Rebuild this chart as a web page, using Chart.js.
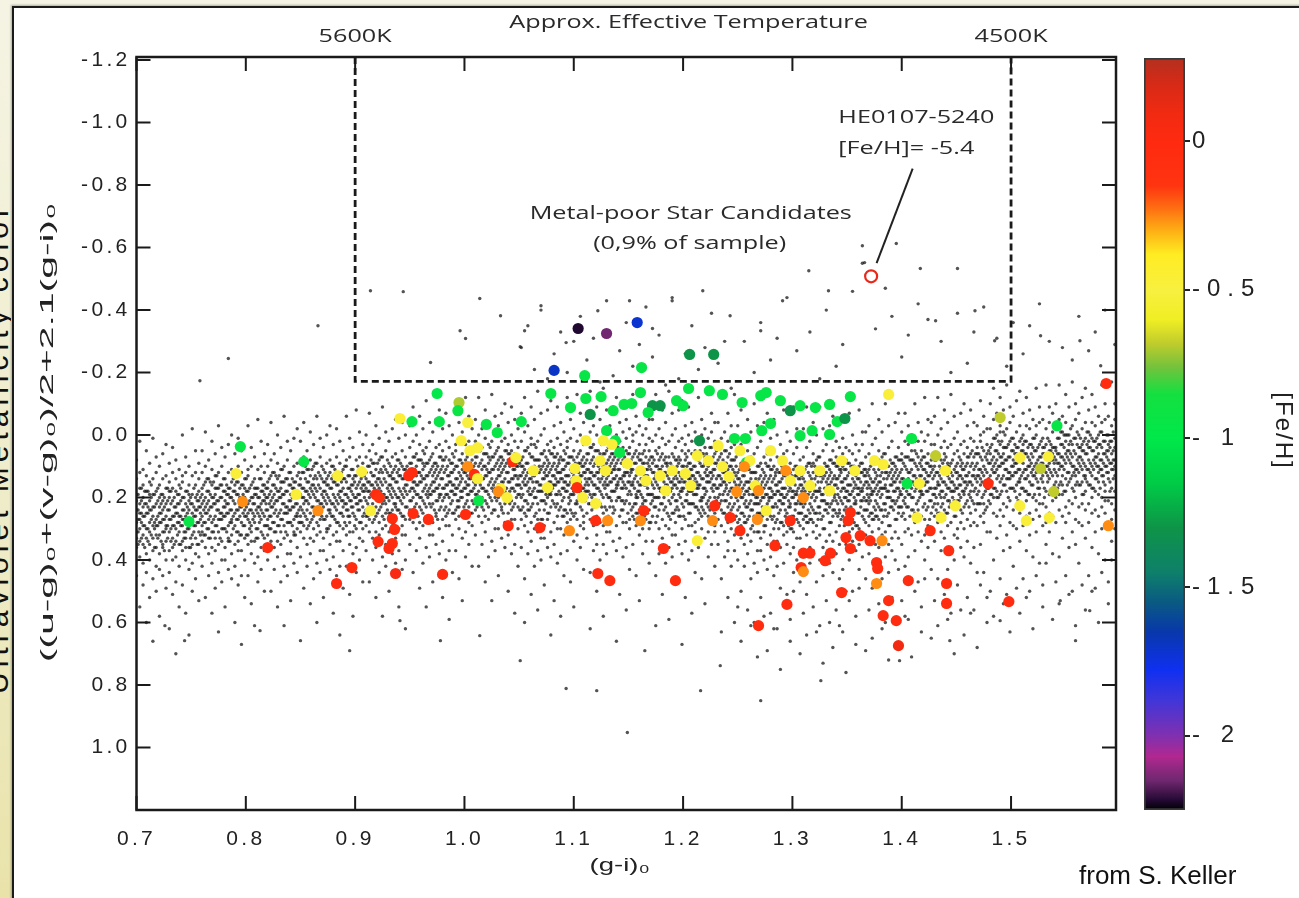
<!DOCTYPE html>
<html><head><meta charset="utf-8">
<script src="https://cdn.jsdelivr.net/npm/chart.js@4.4.0/dist/chart.umd.min.js"></script>
<style>
html,body{margin:0;padding:0;}
body{width:1299px;height:898px;overflow:hidden;position:relative;background:linear-gradient(180deg,#f5f4e4 0%,#efecca 55%,#e9e3aa 100%);font-family:'Liberation Sans',Arial,sans-serif;}
#panel{position:absolute;left:12px;top:6px;width:1300px;height:900px;background:#fff;border:2px solid #1a1a1a;box-shadow:-1px -1px 2px rgba(0,0,0,.3);}
#main{position:absolute;left:14px;top:8px;}
#cb{position:absolute;left:1130px;top:40px;}
#credit{position:absolute;left:1079px;top:860px;font-size:26px;color:#111;white-space:nowrap;}
#sidewrap{position:absolute;left:0;top:0;width:11px;height:898px;overflow:hidden;}
#side{position:absolute;left:-2px;top:448px;transform:translate(-50%,-50%) rotate(-90deg);font-size:30px;line-height:30px;color:#111;white-space:nowrap;letter-spacing:5px;}
</style></head>
<body>
<div id="sidewrap"><div id="side">Ultraviolet Metallicity color</div></div>
<div id="panel"></div>
<canvas id="main" width="1285" height="890"></canvas>
<canvas id="cb" width="169" height="800"></canvas>
<div id="credit">from S. Keller</div>
<script>
// ---------------- data ----------------
const xTicks = [0.7,0.8,0.9,1.0,1.1,1.2,1.3,1.4,1.5];
const yTicks = [-1.2,-1.0,-0.8,-0.6,-0.4,-0.2,0,0.2,0.4,0.6,0.8,1.0];
const tempTickVals = [0.9,1.5];
const tempTickLabels = ['5600K','4500K'];
const cbTicks = [0,-0.5,-1,-1.5,-2];
const cbLabels = ['0','-0.5','- 1','-1.5','- 2'];
const cbRange = [-2.25,0.28];
const boxX = [0.9,0.9,1.5,1.5];
const boxY = [-1.21,-0.172,-0.172,-1.21];
const heStar = [1.372,-0.508];
const leaderX = [1.41,1.377];
const leaderY = [-0.853,-0.55];

// photometric sample: each row = [x, y1, y2, ...] (stars sharing one (g-i) column)
const sampleCols = [
[.700,.19,.31,.24,.36,.14,.28,.21,.45,.08,.33],[.703,.27,.17,.39,.22,.30,.12,.34,.25,.55,.02],[.706,.23,.35,.16,.29,.41,.20,.26,.48,.11,.32],[.709,.30,.18,.25,.38,.13,.33,.22,.05,.44,.60],[.712,.21,.28,.35,.15,.40,.24,.31,.52,.09,.19],[.715,.26,.33,.19,.23,.37,.14,.29,.46,.01,.66],[.718,.18,.29,.36,.22,.27,.12,.42,.32,.07,.50],[.721,.32,.20,.25,.16,.38,.28,.23,.58,.10,.43],[.724,.24,.14,.31,.35,.19,.27,.45,.06,.21,.36],[.727,.29,.22,.17,.34,.26,.40,.13,.49,.03,.30],
[.730,.20,.27,.37,.15,.31,.24,.44,.09,.62,.18],[.733,.33,.21,.26,.12,.36,.29,.17,.51,.04,.40],[.736,.25,.30,.18,.39,.23,.14,.34,.47,.08,.70],[.739,.16,.28,.35,.22,.31,.19,.42,.11,.26,.55],[.742,.27,.34,.20,.15,.29,.37,.24,.00,.48,.13],[.745,.22,.18,.31,.26,.40,.12,.33,.57,.07,.36],[.748,.30,.24,.16,.36,.21,.28,.43,.10,.19,.64],[.751,.19,.32,.25,.13,.35,.27,.22,.50,-.02,.41],[.754,.26,.20,.29,.38,.16,.33,.12,.46,.05,.24],[.757,.23,.35,.18,.28,.31,.14,.39,.09,.53,.21],
[.760,.17,.29,.22,.34,.12,.26,.19,.42,.05,.31],[.763,.25,.15,.36,.20,.28,.10,.32,.23,.52,-.01],[.766,.21,.33,.14,.27,.38,.18,.24,.45,.08,.30],[.769,.28,.16,.23,.36,.11,.31,.20,.02,.41,.57],[.772,.19,.26,.33,.13,.37,.22,.29,.49,.06,.17],[.775,.24,.31,.17,.21,.35,.12,.27,.44,-.03,.63],[.778,.16,.27,.34,.20,.25,.10,.40,.30,.04,.47],[.781,.30,.18,.23,.14,.36,.26,.21,.55,.07,.40],[.784,.22,.12,.29,.33,.17,.25,.43,.03,.19,.34],[.787,.27,.20,.15,.32,.24,.38,.11,.46,.00,.28],
[.790,.18,.25,.35,.13,.29,.22,.42,.06,.60,.16],[.793,.31,.19,.24,.10,.34,.27,.15,.48,.01,.37],[.796,.23,.28,.16,.37,.21,.12,.32,.45,.05,.67],[.799,.14,.26,.33,.20,.29,.17,.40,.08,.24,.52],[.802,.25,.32,.18,.13,.27,.35,.22,-.03,.45,.11],[.805,.20,.16,.29,.24,.38,.10,.31,.54,.04,.34],[.808,.28,.22,.14,.34,.19,.26,.41,.07,.17,.61],[.811,.17,.30,.23,.11,.33,.25,.20,.47,-.05,.39],[.814,.24,.18,.27,.36,.14,.31,.10,.43,.02,.22],[.817,.21,.33,.16,.26,.29,.12,.37,.06,.50,.19],
[.820,.15,.27,.20,.32,.10,.24,.17,.40,.03,.29],[.823,.23,.13,.34,.18,.26,.08,.30,.21,.50,-.04],[.826,.19,.31,.12,.25,.36,.16,.22,.43,.06,.28],[.829,.26,.14,.21,.34,.09,.29,.18,.00,.39,.55],[.832,.17,.24,.31,.11,.35,.20,.27,.47,.04,.15],[.835,.22,.29,.15,.19,.33,.10,.25,.42,-.06,.61],[.838,.14,.25,.32,.18,.23,.08,.38,.28,.02,.45],[.841,.28,.16,.21,.12,.34,.24,.19,.53,.05,.38],[.844,.20,.10,.27,.31,.15,.23,.41,.01,.17,.32],[.847,.25,.18,.13,.30,.22,.36,.09,.44,-.02,.26],
[.850,.14,.26,.19,.31,.09,.23,.16,.39,.02,.28],[.853,.22,.12,.33,.17,.25,.07,.29,.20,.49,-.04],[.856,.18,.30,.11,.24,.35,.15,.21,.42,.05,.27],[.859,.25,.13,.20,.33,.08,.28,.17,-.01,.38,.54],[.862,.16,.23,.30,.10,.34,.19,.26,.46,.03,.14],[.865,.21,.28,.14,.18,.32,.09,.24,.41,-.06,.60],[.868,.13,.24,.31,.17,.22,.07,.37,.27,.01,.44],[.871,.27,.15,.20,.11,.33,.23,.18,.52,.04,.37],[.874,.19,.09,.26,.30,.14,.22,.40,.00,.16,.31],[.877,.24,.17,.12,.29,.21,.35,.08,.43,-.03,.25],
[.880,.15,.22,.32,.10,.26,.19,.39,.03,.57,.13],[.883,.28,.16,.21,.07,.31,.24,.12,.45,-.02,.34],[.886,.20,.25,.13,.34,.18,.09,.29,.42,.02,.64],[.889,.11,.23,.30,.17,.26,.14,.37,.05,.21,.49],[.892,.22,.29,.15,.10,.24,.32,.19,-.06,.42,.08],[.895,.17,.13,.26,.21,.35,.07,.28,.51,.01,.31],[.898,.25,.19,.11,.31,.16,.23,.38,.04,.14,.58],[.901,.13,.27,.20,.08,.30,.22,.17,.44,-.08,.36],[.904,.21,.15,.24,.33,.11,.28,.07,.40,-.01,.19],[.907,.18,.30,.13,.23,.26,.09,.34,.03,.47,.16],
[.910,.12,.24,.17,.29,.07,.21,.14,.37,.00,.26],[.913,.20,.10,.31,.15,.23,.05,.27,.18,.47,-.07],[.916,.16,.28,.09,.22,.33,.13,.19,.40,.03,.25],[.919,.23,.11,.18,.31,.06,.26,.15,-.03,.36,.52],[.922,.14,.21,.28,.08,.32,.17,.24,.44,.01,.12],[.925,.19,.26,.12,.16,.30,.07,.22,.39,-.09,.58],[.928,.11,.22,.29,.15,.20,.05,.35,.25,-.01,.42],[.931,.25,.13,.18,.09,.31,.21,.16,.50,.02,.35],[.934,.17,.07,.24,.28,.12,.20,.38,-.02,.14,.29],[.937,.22,.15,.10,.27,.19,.33,.06,.41,-.05,.23],
[.940,.13,.20,.30,.08,.24,.17,.37,.01,.55,.11],[.943,.26,.14,.19,.05,.29,.22,.10,.43,-.04,.32],[.946,.18,.23,.11,.32,.16,.07,.27,.40,.00,.62],
[.950,.09,.21,.14,.27,.04,.18,.11,.35,-.03,.24],[.953,.17,.07,.28,.12,.20,.02,.24,.15,.44,-.09],[.956,.13,.25,.06,.19,.30,.10,.16,.37,.00,.22],[.959,.20,.08,.15,.28,.03,.23,.12,-.06,.33,.49],[.962,.11,.18,.25,.05,.29,.14,.21,.41,-.02,.09],[.965,.16,.23,.09,.13,.27,.04,.19,.36,-.11,.55],[.968,.08,.19,.26,.12,.17,.02,.32,.22,-.04,.39],[.971,.22,.10,.15,.06,.28,.18,.13,.47,-.01,.32],[.974,.14,.04,.21,.25,.09,.17,.35,-.05,.11,.26],[.977,.19,.12,.07,.24,.16,.30,.03,.38,-.08,.20],
[.980,.10,.17,.27,.05,.21,.14,.34,-.02,.52,.08],[.983,.23,.11,.16,.02,.26,.19,.07,.40,-.07,.29],[.986,.15,.20,.08,.29,.13,.04,.24,.37,-.03,.59],[.989,.06,.18,.25,.12,.21,.09,.32,.00,.16,.44],[.992,.17,.24,.10,.05,.19,.27,.14,-.10,.37,.03],[.995,.12,.08,.21,.16,.30,.02,.23,.46,-.04,.26],[.998,.20,.14,.06,.26,.11,.18,.33,-.01,.09,.53],[1.001,.08,.22,.15,.03,.25,.17,.12,.39,-.12,.31],[1.004,.16,.10,.19,.28,.06,.23,.02,.35,-.06,.14],[1.007,.13,.25,.08,.18,.21,.04,.29,-.02,.42,.11],
[1.010,.07,.19,.12,.24,.02,.16,.09,.32,-.05,.21],[1.013,.15,.05,.26,.10,.18,.00,.22,.13,.42,-.12],[1.016,.11,.23,.04,.17,.28,.08,.14,.35,-.02,.20],[1.019,.18,.06,.13,.26,.01,.21,.10,-.08,.31,.47],[1.022,.09,.16,.23,.03,.27,.12,.19,.39,-.04,.07],[1.025,.14,.21,.07,.11,.25,.02,.17,.34,-.13,.53],[1.028,.06,.17,.24,.10,.15,.00,.30,.20,-.06,.37],[1.031,.20,.08,.13,.04,.26,.16,.11,.45,-.03,.30],[1.034,.12,.02,.19,.23,.07,.15,.33,-.07,.09,.24],[1.037,.17,.10,.05,.22,.14,.28,.01,.36,-.10,.18],
[1.040,.08,.15,.25,.03,.19,.12,.32,-.04,.50,.06],[1.043,.21,.09,.14,.00,.24,.17,.05,.38,-.09,.27],[1.046,.13,.18,.06,.27,.11,.02,.22,.35,-.05,.57],[1.049,.04,.16,.23,.10,.19,.07,.30,-.02,.14,.42],
[1.052,.08,.20,.13,.27,.02,.17,.10,.36,-.07,.24,-.28],[1.055,.16,.05,.29,.11,.21,-.01,.25,.14,.46,-.12,.60],[1.058,.12,.24,.04,.18,.31,.09,.15,.38,-.03,.22,-.35],[1.061,.19,.07,.14,.28,.01,.23,.11,-.09,.34,.51,.03],[1.064,.10,.17,.26,.03,.30,.13,.20,.42,-.05,.08,-.21],[1.067,.15,.22,.08,.12,.27,.02,.18,.37,-.14,.56,.31],[1.070,.06,.18,.27,.11,.16,.00,.33,.21,-.07,.40,-.40],[1.073,.21,.09,.14,.05,.29,.17,.12,.48,-.02,.33,.24],[1.076,.13,.03,.20,.25,.08,.16,.36,-.08,.10,.27,-.18],[1.079,.18,.11,.06,.23,.15,.31,.02,.39,-.11,.19,.64],
[1.082,.09,.16,.28,.04,.22,.13,.35,-.03,.53,.07,-.26],[1.085,.22,.10,.15,.01,.26,.19,.06,.41,-.09,.30,.12],[1.088,.14,.19,.07,.30,.12,.03,.23,.38,-.04,.58,-.33],[1.091,.05,.17,.24,.11,.20,.08,.32,-.01,.15,.45,.26],[1.094,.16,.25,.09,.04,.18,.28,.13,-.12,.37,.02,-.20],[1.097,.11,.07,.21,.15,.31,.01,.24,.47,-.05,.27,.19],[1.100,.19,.13,.05,.26,.10,.18,.34,-.02,.08,.55,-.30],[1.103,.07,.22,.14,.02,.27,.16,.11,.40,-.13,.32,.21],[1.106,.15,.09,.18,.29,.05,.23,.00,.36,-.07,.13,-.38],[1.109,.12,.26,.07,.17,.21,.03,.30,-.04,.43,.10,.28],
[1.112,.06,.18,.11,.25,.01,.15,.08,.33,-.06,.20,-.24],[1.115,.14,.04,.27,.09,.19,-.01,.22,.12,.44,-.14,.62],[1.118,.10,.23,.03,.16,.29,.07,.13,.37,-.03,.19,-.31],[1.121,.17,.05,.12,.26,.00,.21,.09,-.09,.32,.50,.35],[1.124,.08,.15,.22,.02,.28,.11,.18,.40,-.05,.06,-.17],[1.127,.13,.20,.06,.10,.25,.01,.16,.35,-.15,.58,.29],[1.130,.05,.16,.24,.09,.14,-.01,.31,.19,-.08,.38,-.43],[1.133,.20,.07,.12,.03,.27,.15,.10,.46,-.03,.31,.23],[1.136,.11,.01,.18,.23,.06,.14,.34,-.09,.08,.25,-.19],[1.139,.16,.09,.04,.21,.13,.29,.00,.37,-.12,.17,.66],
[1.142,.07,.14,.26,.02,.20,.11,.33,-.04,.51,.05,-.27],[1.145,.21,.08,.13,-.01,.24,.17,.04,.39,-.10,.28,.15],[1.148,.12,.17,.05,.28,.10,.01,.21,.36,-.05,.56,-.36],[1.151,.04,.15,.22,.09,.18,.06,.30,-.02,.13,.43,.27],[1.154,.15,.23,.07,.02,.16,.26,.11,-.13,.35,.00,-.22],[1.157,.09,.05,.19,.13,.29,-.01,.22,.45,-.06,.25,.20],[1.160,.18,.11,.03,.24,.08,.16,.32,-.03,.06,.53,-.29],[1.163,.06,.20,.12,.00,.25,.14,.09,.38,-.14,.30,.22],[1.166,.13,.07,.16,.27,.03,.21,-.02,.34,-.08,.11,-.41],[1.169,.10,.24,.05,.15,.19,.01,.28,-.05,.41,.08,.30],
[1.172,.07,.19,.12,.26,.02,.16,.09,.34,-.05,.21,-.25],[1.175,.15,.05,.28,.10,.20,.00,.23,.13,.45,-.13,.61],[1.178,.11,.24,.04,.17,.30,.08,.14,.38,-.02,.20,-.32],[1.181,.18,.06,.13,.27,.01,.22,.10,-.08,.33,.51,.36],[1.184,.09,.16,.23,.03,.29,.12,.19,.41,-.04,.07,-.16],[1.187,.14,.21,.07,.11,.26,.02,.17,.36,-.14,.59,.30],[1.190,.06,.17,.25,.10,.15,.00,.32,.20,-.07,.39,-.44],[1.193,.21,.08,.13,.04,.28,.16,.11,.47,-.02,.32,.24],[1.196,.12,.02,.19,.24,.07,.15,.35,-.08,.09,.26,-.18],[1.199,.17,.10,.05,.22,.14,.30,.01,.38,-.11,.18,.67],
[1.202,.08,.15,.27,.03,.21,.12,.34,-.03,.52,.06,-.26],[1.205,.22,.09,.14,.00,.25,.18,.05,.40,-.09,.29,.16],[1.208,.13,.18,.06,.29,.11,.02,.22,.37,-.04,.57,-.35],[1.211,.05,.16,.23,.10,.19,.07,.31,-.01,.14,.44,.28],[1.214,.16,.24,.08,.03,.17,.27,.12,-.12,.36,.01,-.21],[1.217,.10,.06,.20,.14,.30,.00,.23,.46,-.05,.26,.21],[1.220,.19,.12,.04,.25,.09,.17,.33,-.02,.07,.54,-.28],[1.223,.07,.21,.13,.01,.26,.15,.10,.39,-.13,.31,.23],[1.226,.14,.08,.17,.28,.04,.22,-.01,.35,-.07,.12,-.39],[1.229,.11,.25,.06,.16,.20,.02,.29,-.04,.42,.09,.31],
[1.232,.08,.20,.13,.27,.03,.17,.10,.35,-.04,.22,-.23],[1.235,.16,.06,.29,.11,.21,.01,.24,.14,.46,-.12,.63],[1.238,.12,.25,.05,.18,.31,.09,.15,.39,-.01,.21,-.30],[1.241,.19,.07,.14,.28,.02,.23,.11,-.07,.34,.52,.37],[1.244,.10,.17,.24,.04,.30,.13,.20,.42,-.03,.08,-.15],[1.247,.15,.22,.08,.12,.27,.03,.18,.37,-.13,.60,.32],
[1.250,.12,.24,.17,.31,.06,.21,.14,.40,-.03,.28,.55],[1.253,.20,.09,.33,.15,.25,.03,.29,.18,.50,-.08,.66],[1.256,.16,.28,.08,.22,.35,.13,.19,.42,.01,.26,-.30],[1.259,.23,.11,.18,.32,.05,.27,.15,-.05,.38,.56,.08],[1.262,.14,.21,.30,.07,.34,.17,.24,.46,-.01,.12,.61],[1.265,.19,.26,.12,.16,.31,.06,.22,.41,-.10,.60,-.20],[1.268,.10,.22,.31,.15,.20,.04,.37,.25,-.03,.44,.71],[1.271,.25,.13,.18,.09,.33,.21,.16,.52,.02,.37,-.36],[1.274,.17,.07,.24,.29,.12,.20,.40,-.04,.14,.31,.58],[1.277,.22,.15,.10,.27,.19,.35,.06,.43,-.07,.23,.69],
[1.280,.13,.20,.32,.08,.26,.17,.39,.01,.57,.11,-.24],[1.283,.26,.14,.19,.05,.30,.23,.10,.45,-.05,.34,.62],[1.286,.18,.23,.11,.34,.16,.07,.27,.42,.00,.62,-.31],[1.289,.09,.21,.28,.15,.24,.12,.36,.03,.19,.49,.75],[1.292,.20,.29,.13,.08,.22,.32,.17,-.08,.41,.06,.54],[1.295,.15,.11,.25,.19,.35,.05,.28,.51,-.01,.31,-.44],[1.298,.23,.17,.09,.30,.14,.22,.38,.02,.12,.59,.66],[1.301,.11,.26,.18,.06,.31,.20,.15,.44,-.09,.36,.50],[1.304,.19,.13,.22,.33,.10,.27,.04,.40,-.02,.18,-.27],[1.307,.16,.29,.12,.22,.25,.08,.33,.00,.47,.14,.70],
[1.310,.12,.23,.17,.30,.07,.21,.14,.39,-.02,.27,.57],[1.313,.20,.10,.32,.16,.26,.04,.28,.19,.51,-.09,.64],[1.316,.15,.27,.09,.22,.36,.13,.18,.41,.02,.25,-.33],[1.319,.24,.12,.19,.31,.06,.28,.16,-.04,.37,.55,.09],[1.322,.13,.20,.29,.08,.33,.18,.25,.47,.00,.11,.63],[1.325,.18,.25,.13,.17,.32,.07,.23,.40,-.09,.61,-.18],[1.328,.11,.21,.30,.14,.19,.05,.36,.26,-.02,.45,.73],[1.331,.24,.12,.17,.10,.34,.22,.15,.53,.03,.38,-.40],[1.334,.16,.08,.23,.28,.11,.19,.41,-.03,.13,.32,.60],[1.337,.21,.14,.09,.26,.18,.34,.05,.44,-.06,.24,.68],
[1.340,.14,.21,.31,.07,.25,.16,.38,.02,.56,.10,-.22],[1.343,.25,.13,.20,.04,.29,.24,.11,.46,-.04,.35,.61],[1.346,.17,.22,.10,.33,.15,.06,.26,.43,.01,.63,-.29],[1.349,.08,.20,.27,.14,.23,.11,.35,.04,.18,.50,.76],[1.352,.19,.28,.12,.09,.21,.31,.16,-.07,.40,.05,.53],[1.355,.14,.10,.24,.18,.34,.06,.27,.50,.00,.30,-.46],[1.358,.22,.16,.08,.29,.13,.21,.37,.03,.11,.58,.67],[1.361,.10,.25,.17,.05,.30,.19,.14,.43,-.08,.35,.49],[1.364,.18,.12,.21,.32,.09,.26,.03,.39,-.01,.17,-.55],[1.367,.15,.28,.11,.21,.24,.07,.32,-.01,.46,.13,.69],
[1.370,.11,.22,.16,.29,.06,.20,.13,.38,-.03,.26,.56],[1.373,.19,.09,.31,.15,.25,.03,.27,.18,.49,-.10,.65],[1.376,.14,.26,.08,.21,.35,.12,.17,.40,.01,.24,-.34],[1.379,.23,.11,.18,.30,.05,.27,.15,-.05,.36,.54,.08],[1.382,.12,.19,.28,.07,.32,.17,.24,.46,-.01,.10,.62],[1.385,.17,.24,.12,.16,.31,.06,.22,.39,-.10,.60,-.47],[1.388,.10,.20,.29,.13,.18,.04,.35,.25,-.03,.44,.72],[1.391,.23,.11,.16,.09,.33,.21,.14,.52,.02,.37,-.38],[1.394,.15,.07,.22,.27,.10,.18,.40,-.04,.12,.31,.59],[1.397,.20,.13,.08,.25,.17,.33,.04,.43,-.07,.23,.67],
[1.400,.11,.19,.26,.06,.23,.14,.35,-.01,.53,.08,-.25],[1.403,.22,.10,.16,.02,.27,.20,.07,.42,-.07,.31,.58],[1.406,.14,.19,.07,.30,.12,.03,.23,.39,-.03,.59,-.32],[1.409,.05,.17,.24,.11,.20,.08,.32,.00,.15,.46,.71],[1.412,.16,.25,.09,.05,.18,.28,.13,-.10,.37,.02,.50],[1.415,.11,.07,.21,.15,.31,.02,.24,.47,-.04,.27,-.42],[1.418,.19,.13,.05,.26,.10,.18,.34,-.01,.08,.55,.63],[1.421,.07,.22,.14,.02,.27,.16,.11,.40,-.12,.32,.46],[1.424,.15,.09,.18,.29,.06,.23,.00,.36,-.05,.13,-.37],[1.427,.12,.25,.08,.17,.21,.03,.30,-.04,.43,.10,.65],
[1.430,.08,.19,.13,.26,.03,.17,.10,.34,-.06,.22,.53],[1.433,.16,.06,.28,.12,.22,.00,.25,.15,.46,-.12,.61],[1.436,.11,.23,.04,.18,.31,.08,.14,.37,-.02,.20,-.30],[1.439,.20,.08,.15,.27,.02,.24,.12,-.08,.33,.51,.06],[1.442,.10,.17,.25,.04,.29,.13,.21,.43,-.04,.09,.59],[1.445,.15,.22,.09,.12,.28,.03,.18,.36,-.13,.57,-.20],[1.448,.06,.18,.26,.11,.16,.01,.32,.21,-.06,.40,.70],[1.451,.21,.09,.14,.05,.30,.17,.12,.48,-.01,.33,-.39],[1.454,.13,.03,.20,.24,.08,.16,.36,-.07,.10,.28,.56],[1.457,.18,.11,.06,.23,.15,.30,.02,.39,-.10,.19,.64],
[1.460,.09,.16,.27,.04,.21,.13,.34,-.03,.52,.07,-.23],[1.463,.20,.10,.15,.01,.25,.18,.06,.41,-.08,.29,.57],[1.466,.13,.18,.07,.28,.11,.02,.22,.36,-.04,.56,-.33],[1.469,.04,.15,.22,.09,.19,.06,.29,-.03,.13,.44,.68],[1.472,.14,.22,.07,.02,.16,.26,.11,-.11,.35,.00,.48],[1.475,.10,.05,.19,.13,.28,-.01,.22,.44,-.06,.25,-.41],[1.478,.17,.12,.03,.23,.08,.15,.31,-.02,.06,.52,.60],
[1.481,.04,.16,.09,.22,-.02,.13,.06,.31,-.10,.19,.50],[1.484,.12,.01,.25,.07,.17,-.05,.20,.10,.40,-.15,.58],[1.487,.08,.20,.00,.14,.26,.05,.11,.33,-.07,.18,-.31],[1.490,.15,.03,.10,.24,-.03,.19,.07,-.12,.29,.46,-.01],[1.493,.06,.13,.22,-.01,.26,.09,.16,.37,-.08,.04,.54],[1.496,.11,.18,.04,.08,.23,-.02,.14,.32,-.16,.51,-.22],[1.499,.02,.14,.21,.07,.12,-.04,.28,.17,-.09,.36,.63],[1.502,.17,.05,.10,.01,.24,.13,.08,.42,-.06,.29,-.36],[1.505,.09,-.01,.16,.20,.04,.12,.30,-.11,.06,.23,.49],[1.508,.14,.07,.02,.19,.11,.25,-.03,.34,-.14,.15,.57],
[1.511,.05,.12,.23,.00,.17,.09,.29,-.07,.46,.03,-.26],[1.514,.18,.06,.11,-.03,.21,.14,.02,.37,-.12,.26,.52],[1.517,.10,.15,.03,.25,.08,-.02,.19,.32,-.08,.50,-.35],[1.520,.01,.13,.20,.07,.16,.04,.27,-.05,.11,.39,.62],[1.523,.12,.21,.05,.00,.14,.24,.09,-.15,.31,-.03,.45],[1.526,.07,.03,.17,.11,.26,-.04,.19,.41,-.09,.22,-.42],[1.529,.15,.09,.01,.22,.06,.13,.29,-.05,.04,.48,.55],[1.532,.03,.18,.10,-.02,.23,.12,.07,.35,-.16,.28,.41],[1.535,.11,.05,.14,.25,.02,.19,-.04,.31,-.09,.09,-.30],[1.538,.08,.21,.04,.13,.17,-.01,.26,-.07,.38,.06,.59],
[1.541,.04,.15,.08,.20,-.02,.12,.05,.28,-.10,.17,.47],[1.544,.11,.01,.24,.06,.16,-.05,.19,.09,.39,-.16,.54],[1.547,.07,.19,-.01,.13,.26,.03,.10,.33,-.06,.16,-.28],[1.550,.14,.02,.09,.23,-.04,.18,.06,-.13,.28,.45,.00],[1.553,.05,.12,.21,.00,.25,.08,.15,.36,-.09,.03,.51],[1.556,.10,.17,.03,.07,.22,-.03,.13,.31,-.17,.50,-.24],[1.559,.01,.13,.20,.06,.11,-.05,.27,.16,-.10,.35,.61],[1.562,.16,.04,.09,.00,.23,.12,.07,.41,-.07,.28,-.38],[1.565,.08,-.02,.15,.19,.03,.11,.29,-.12,.05,.22,.48],[1.568,.13,.06,.01,.18,.10,.24,-.04,.33,-.15,.14,.56],
[1.571,.04,.11,.22,-.01,.16,.08,.28,-.08,.45,.02,-.27],[1.574,.17,.05,.10,-.04,.20,.13,.01,.36,-.13,.25,.50],[1.577,.09,.14,.02,.24,.07,-.03,.18,.31,-.09,.49,-.33],[1.580,.00,.12,.19,.06,.15,.03,.26,-.06,.10,.38,.60],[1.583,.11,.20,.04,-.01,.13,.23,.08,-.16,.30,-.04,.44],[1.586,.06,.02,.16,.10,.25,-.05,.18,.40,-.10,.21,-.40],[1.589,.14,.08,.00,.21,.05,.12,.28,-.06,.03,.47,.54],[1.592,.02,.17,.09,-.03,.22,.11,.06,.34,-.17,.27,.40],[1.595,.10,.04,.13,.24,.01,.18,-.05,.30,-.10,.08,-.29]
];
// dense core of the stellar locus, same layout [x, y1, y2, ...]
const sampleCore = [
[.7015,.24,.31,.19,.27,.35],[.7045,.21,.28,.33,.17,.25],[.7075,.29,.22,.36,.26,.18],[.7105,.25,.18,.30,.23,.34],[.7135,.20,.27,.32,.24,.16],[.7165,.30,.23,.19,.28,.36],[.7195,.26,.33,.21,.17,.29],[.7225,.22,.28,.25,.34,.19],[.7255,.31,.20,.27,.23,.37],[.7285,.24,.17,.29,.33,.21],
[.7315,.27,.34,.22,.18,.30],[.7345,.23,.29,.26,.20,.35],[.7375,.28,.19,.32,.25,.22],[.7405,.21,.26,.35,.29,.17],[.7435,.31,.24,.20,.27,.33],[.7465,.25,.30,.18,.23,.28],[.7495,.20,.27,.33,.22,.36],[.7525,.29,.23,.17,.31,.26],[.7555,.24,.35,.28,.21,.19],[.7585,.27,.20,.25,.32,.23],
[.7615,.21,.28,.16,.24,.32],[.7645,.18,.25,.30,.14,.22],[.7675,.26,.19,.33,.23,.15],[.7705,.22,.15,.27,.20,.31],[.7735,.17,.24,.29,.21,.13],[.7765,.27,.20,.16,.25,.33],[.7795,.23,.30,.18,.14,.26],[.7825,.19,.25,.22,.31,.16],[.7855,.28,.17,.24,.20,.34],[.7885,.21,.14,.26,.30,.18],
[.7915,.24,.31,.19,.15,.27],[.7945,.20,.26,.23,.17,.32],[.7975,.25,.16,.29,.22,.19],[.8005,.18,.23,.32,.26,.14],[.8035,.28,.21,.17,.24,.30],[.8065,.22,.27,.15,.20,.25],[.8095,.17,.24,.30,.19,.33],[.8125,.26,.20,.14,.28,.23],[.8155,.21,.32,.25,.18,.16],[.8185,.24,.17,.22,.29,.20],
[.8215,.19,.26,.14,.22,.30],[.8245,.16,.23,.28,.12,.20],[.8275,.24,.17,.31,.21,.13],[.8305,.20,.13,.25,.18,.29],[.8335,.15,.22,.27,.19,.11],[.8365,.25,.18,.14,.23,.31],[.8395,.21,.28,.16,.12,.24],[.8425,.17,.23,.20,.29,.14],[.8455,.26,.15,.22,.18,.32],[.8485,.19,.12,.24,.28,.16],
[.8515,.17,.24,.12,.20,.28],[.8545,.14,.21,.26,.10,.18],[.8575,.22,.15,.29,.19,.11],[.8605,.18,.11,.23,.16,.27],[.8635,.13,.20,.25,.17,.09],[.8665,.23,.16,.12,.21,.29],[.8695,.19,.26,.14,.10,.22],[.8725,.15,.21,.18,.27,.12],[.8755,.24,.13,.20,.16,.30],[.8785,.17,.10,.22,.26,.14],
[.8815,.20,.27,.15,.11,.23],[.8845,.16,.22,.19,.13,.28],[.8875,.21,.12,.25,.18,.15],[.8905,.14,.19,.28,.22,.10],[.8935,.24,.17,.13,.20,.26],[.8965,.18,.23,.11,.16,.21],[.8995,.13,.20,.26,.15,.29],[.9025,.22,.16,.10,.24,.19],[.9055,.17,.28,.21,.14,.12],[.9085,.20,.13,.18,.25,.16],
[.9115,.15,.22,.10,.18,.26],[.9145,.12,.19,.24,.08,.16],[.9175,.20,.13,.27,.17,.09],[.9205,.16,.09,.21,.14,.25],[.9235,.11,.18,.23,.15,.07],[.9265,.21,.14,.10,.19,.27],[.9295,.17,.24,.12,.08,.20],[.9325,.13,.19,.16,.25,.10],[.9355,.22,.11,.18,.14,.28],[.9385,.15,.08,.20,.24,.12],
[.9415,.18,.25,.13,.09,.21],[.9445,.14,.20,.17,.11,.26],[.9475,.19,.10,.23,.16,.13],
[.9515,.14,.21,.09,.17,.25],[.9545,.11,.18,.23,.07,.15],[.9575,.19,.12,.26,.16,.08],[.9605,.15,.08,.20,.13,.24],[.9635,.10,.17,.22,.14,.06],[.9665,.20,.13,.09,.18,.26],[.9695,.16,.23,.11,.07,.19],[.9725,.12,.18,.15,.24,.09],[.9755,.21,.10,.17,.13,.27],[.9785,.14,.07,.19,.23,.11],
[.9815,.17,.24,.12,.08,.20],[.9845,.13,.19,.16,.10,.25],[.9875,.18,.09,.22,.15,.12],[.9905,.11,.16,.25,.19,.07],[.9935,.21,.14,.10,.17,.23],[.9965,.15,.20,.08,.13,.18],[.9995,.10,.17,.23,.12,.26],[1.0025,.19,.13,.07,.21,.16],[1.0055,.14,.25,.18,.11,.09],[1.0085,.17,.10,.15,.22,.13],
[1.0115,.12,.19,.07,.15,.23],[1.0145,.09,.16,.21,.05,.13],[1.0175,.17,.10,.24,.14,.06],[1.0205,.13,.06,.18,.11,.22],[1.0235,.08,.15,.20,.12,.04],[1.0265,.18,.11,.07,.16,.24],[1.0295,.14,.21,.09,.05,.17],[1.0325,.10,.16,.13,.22,.07],[1.0355,.19,.08,.15,.11,.25],[1.0385,.12,.05,.17,.21,.09],
[1.0415,.15,.22,.10,.06,.18],[1.0445,.11,.17,.14,.08,.23],[1.0475,.16,.07,.20,.13,.10],[1.0505,.13,.19,.09,.16,.24],
[1.0535,.12,.19,.07,.15,.23,.10],[1.0565,.09,.16,.21,.05,.13,.26],[1.0595,.17,.11,.24,.14,.06,.19],[1.0625,.13,.07,.18,.11,.22,.15],[1.0655,.08,.15,.20,.12,.04,.25],[1.0685,.18,.12,.08,.16,.24,.10],[1.0715,.14,.21,.10,.06,.18,.27],[1.0745,.11,.16,.13,.22,.07,.19],[1.0775,.19,.09,.15,.12,.25,.05],[1.0805,.13,.06,.17,.21,.10,.16],
[1.0835,.16,.23,.11,.07,.19,.14],[1.0865,.12,.18,.15,.09,.24,.08],[1.0895,.17,.08,.21,.14,.11,.26],[1.0925,.10,.15,.24,.18,.06,.13],[1.0955,.20,.13,.09,.16,.22,.07],[1.0985,.14,.19,.07,.12,.17,.25],[1.1015,.09,.16,.22,.11,.25,.14],[1.1045,.18,.12,.06,.20,.15,.09],[1.1075,.13,.24,.17,.10,.08,.21],[1.1105,.16,.09,.14,.21,.12,.18],
[1.1135,.11,.18,.06,.14,.22,.16],[1.1165,.08,.15,.20,.04,.12,.24],[1.1195,.16,.09,.23,.13,.05,.19],[1.1225,.12,.05,.17,.10,.21,.14],[1.1255,.07,.14,.19,.11,.03,.23],[1.1285,.17,.10,.06,.15,.23,.12],[1.1315,.13,.20,.08,.04,.16,.26],[1.1345,.09,.15,.12,.21,.06,.18],[1.1375,.18,.07,.14,.10,.24,.11],[1.1405,.11,.04,.16,.20,.08,.15],
[1.1435,.14,.21,.09,.05,.17,.24],[1.1465,.10,.16,.13,.07,.22,.12],[1.1495,.15,.06,.19,.12,.09,.25],[1.1525,.12,.19,.08,.16,.24,.11],[1.1555,.09,.17,.22,.06,.14,.27],[1.1585,.18,.12,.25,.15,.07,.20],[1.1615,.14,.08,.19,.12,.23,.16],[1.1645,.09,.16,.21,.13,.05,.26],[1.1675,.19,.13,.09,.17,.25,.11],[1.1705,.15,.22,.11,.07,.19,.28],
[1.1735,.12,.17,.14,.23,.08,.20],[1.1765,.20,.10,.16,.13,.26,.06],[1.1795,.14,.07,.18,.22,.11,.17],[1.1825,.17,.24,.12,.08,.20,.15],[1.1855,.13,.19,.16,.10,.25,.09],[1.1885,.18,.09,.22,.15,.12,.27],[1.1915,.11,.16,.25,.19,.07,.14],[1.1945,.21,.14,.10,.17,.23,.08],[1.1975,.15,.20,.08,.13,.18,.26],[1.2005,.10,.17,.23,.12,.26,.15],
[1.2035,.19,.13,.07,.21,.16,.10],[1.2065,.14,.25,.18,.11,.09,.22],[1.2095,.17,.10,.15,.22,.13,.19],[1.2125,.12,.19,.07,.15,.23,.17],[1.2155,.09,.16,.21,.05,.13,.25],[1.2185,.17,.10,.24,.14,.06,.20],[1.2215,.13,.06,.18,.11,.22,.15],[1.2245,.08,.15,.20,.12,.04,.24],[1.2275,.18,.11,.07,.16,.24,.13],[1.2305,.14,.21,.09,.05,.17,.27],
[1.2335,.10,.16,.13,.22,.07,.19],[1.2365,.19,.08,.15,.11,.25,.12],[1.2395,.12,.05,.17,.21,.09,.16],[1.2425,.15,.22,.10,.06,.18,.25],[1.2455,.11,.17,.14,.08,.23,.13],[1.2485,.16,.07,.20,.13,.10,.26],
[1.2515,.16,.23,.11,.19,.27,.14],[1.2545,.13,.20,.25,.09,.17,.30],[1.2575,.21,.15,.28,.18,.10,.23],[1.2605,.17,.11,.22,.15,.26,.19],[1.2635,.12,.19,.24,.16,.08,.29],[1.2665,.22,.16,.12,.20,.28,.14],[1.2695,.18,.25,.14,.10,.22,.31],[1.2725,.15,.20,.17,.26,.11,.23],[1.2755,.23,.13,.19,.16,.29,.09],[1.2785,.17,.10,.21,.25,.14,.20],
[1.2815,.20,.27,.15,.11,.23,.18],[1.2845,.16,.22,.19,.13,.28,.12],[1.2875,.21,.12,.25,.18,.15,.30],[1.2905,.14,.19,.28,.22,.10,.17],[1.2935,.24,.17,.13,.20,.26,.11],[1.2965,.18,.23,.11,.16,.21,.29],[1.2995,.13,.20,.26,.15,.30,.18],[1.3025,.22,.16,.10,.24,.19,.13],[1.3055,.17,.28,.21,.14,.12,.25],[1.3085,.20,.13,.18,.25,.16,.22],
[1.3115,.15,.22,.11,.18,.26,.20],[1.3145,.12,.19,.24,.09,.16,.28],[1.3175,.20,.14,.27,.17,.10,.23],[1.3205,.16,.10,.21,.14,.25,.18],[1.3235,.11,.18,.23,.15,.07,.27],[1.3265,.21,.15,.11,.19,.27,.13],[1.3295,.17,.24,.13,.09,.21,.30],[1.3325,.14,.19,.16,.25,.10,.22],[1.3355,.22,.12,.18,.15,.28,.08],[1.3385,.16,.09,.20,.24,.13,.19],
[1.3415,.19,.26,.14,.10,.22,.17],[1.3445,.15,.21,.18,.12,.27,.11],[1.3475,.20,.11,.24,.17,.14,.29],[1.3505,.13,.18,.27,.21,.09,.16],[1.3535,.23,.16,.12,.19,.25,.10],[1.3565,.17,.22,.10,.15,.20,.28],[1.3595,.12,.19,.25,.14,.29,.17],[1.3625,.21,.15,.09,.23,.18,.12],[1.3655,.16,.27,.20,.13,.11,.24],[1.3685,.19,.12,.17,.24,.15,.21],
[1.3715,.14,.21,.10,.17,.25,.19],[1.3745,.11,.18,.23,.08,.15,.27],[1.3775,.19,.13,.26,.16,.09,.22],[1.3805,.15,.09,.20,.13,.24,.17],[1.3835,.10,.17,.22,.14,.06,.26],[1.3865,.20,.14,.10,.18,.26,.12],[1.3895,.16,.23,.12,.08,.20,.29],[1.3925,.13,.18,.15,.24,.09,.21],[1.3955,.21,.11,.17,.14,.27,.07],[1.3985,.15,.08,.19,.23,.12,.18],
[1.4015,.14,.21,.09,.17,.25],[1.4045,.11,.18,.23,.07,.15],[1.4075,.19,.12,.26,.16,.08],[1.4105,.15,.08,.20,.13,.24],[1.4135,.10,.17,.22,.14,.06],[1.4165,.20,.13,.09,.18,.26],[1.4195,.16,.23,.11,.07,.19],[1.4225,.12,.18,.15,.24,.09],[1.4255,.21,.10,.17,.13,.27],[1.4285,.14,.07,.19,.23,.11],
[1.4315,.17,.24,.12,.08,.20],[1.4345,.13,.19,.16,.10,.25],[1.4375,.18,.09,.22,.15,.12],[1.4405,.11,.16,.25,.19,.07],[1.4435,.21,.14,.10,.17,.23],[1.4465,.15,.20,.08,.13,.18],[1.4495,.10,.17,.23,.12,.26],[1.4525,.19,.13,.07,.21,.16],[1.4555,.14,.25,.18,.11,.09],[1.4585,.17,.10,.15,.22,.13],
[1.4615,.12,.19,.07,.15,.23],[1.4645,.09,.16,.21,.05,.13],[1.4675,.17,.10,.24,.14,.06],[1.4705,.13,.06,.18,.11,.22],[1.4735,.08,.15,.20,.12,.04],[1.4765,.18,.11,.07,.16,.24],[1.4795,.14,.21,.09,.05,.17],
[1.4825,.08,.15,.03,.11,.19],[1.4855,.05,.12,.17,.01,.09],[1.4885,.13,.06,.20,.10,.02],[1.4915,.09,.02,.14,.07,.18],[1.4945,.04,.11,.16,.08,.00],[1.4975,.14,.07,.03,.12,.20],[1.5005,.10,.17,.05,.01,.13],[1.5035,.06,.12,.09,.18,.03],[1.5065,.15,.04,.11,.07,.21],[1.5095,.08,.01,.13,.17,.05],
[1.5125,.11,.18,.06,.02,.14],[1.5155,.07,.13,.10,.04,.19],[1.5185,.12,.03,.16,.09,.06],[1.5215,.05,.10,.19,.13,.01],[1.5245,.15,.08,.04,.11,.17],[1.5275,.09,.14,.02,.07,.12],[1.5305,.04,.11,.17,.06,.20],[1.5335,.13,.07,.01,.15,.10],[1.5365,.08,.19,.12,.05,.03],[1.5395,.11,.04,.09,.16,.07],
[1.5425,.06,.13,.01,.09,.17],[1.5455,.03,.10,.15,-.01,.07],[1.5485,.11,.04,.18,.08,.00],[1.5515,.07,.00,.12,.05,.16],[1.5545,.02,.09,.14,.06,-.02],[1.5575,.12,.05,.01,.10,.18],[1.5605,.08,.15,.03,-.01,.11],[1.5635,.04,.10,.07,.16,.01],[1.5665,.13,.02,.09,.05,.19],[1.5695,.06,-.01,.11,.15,.03],
[1.5725,.09,.16,.04,.00,.12],[1.5755,.05,.11,.08,.02,.17],[1.5785,.10,.01,.14,.07,.04],[1.5815,.03,.08,.17,.11,-.01],[1.5845,.13,.06,.02,.09,.15],[1.5875,.07,.12,.00,.05,.10],[1.5905,.02,.09,.15,.04,.18],[1.5935,.11,.05,-.01,.08,.14]
];
// isolated sample stars far from the main locus [x, y]
const haloDots = [
[0.944,-0.459],[1.001,-0.309],[0.969,-0.232],[1.033,-0.382],[1.055,-0.334],[1.051,-0.283],[1.070,-0.414],[1.093,-0.296],[1.122,-0.398],[1.151,-0.430],[1.172,-0.341],[1.190,-0.430],[1.218,-0.462],[1.243,-0.382],[1.271,-0.334],[1.291,-0.430],[1.315,-0.526],[1.333,-0.462],[1.364,-0.606],[1.366,-0.552],[1.395,-0.613],[1.417,-0.533],[1.451,-0.533],[1.467,-0.398],[1.431,-0.366],[1.485,-0.302],[1.014,-0.437],[0.996,-0.334],[0.914,-0.462],[0.866,-0.350],[0.784,-0.245],[0.758,-0.174],[1.563,-0.302],[1.582,-0.222],[1.527,-0.318],
[1.093,0.811],[1.121,0.818],[1.149,0.952],[1.216,0.818],[1.234,0.738],[1.271,0.850],[1.326,0.786],[1.165,0.690],[1.051,0.722],[1.014,0.642],[0.978,0.658],[0.941,0.594],[0.895,0.690],[0.850,0.658],[0.813,0.626],[0.726,0.610],[0.744,0.658],[1.398,0.722],[1.444,0.658],[1.490,0.594],[1.545,0.530],[1.559,0.658],[1.572,0.562]
];

// spectroscopic stars [x, y, [Fe/H]]
const metalDots = [
[1.104,-0.341,-2.22],[1.130,-0.325,-2.15],[1.158,-0.360,-1.72],[1.082,-0.207,-1.70],[1.110,-0.190,-0.95],[1.162,-0.216,-0.95],[1.206,-0.258,-1.30],[1.228,-0.258,-1.30],
[0.975,-0.133,-1.00],[0.995,-0.104,-0.70],[0.994,-0.078,-0.92],[0.952,-0.043,-0.95],[0.941,-0.053,-0.45],[0.977,-0.043,-0.95],[1.003,-0.040,-0.50],[1.020,-0.034,-0.95],[0.997,0.018,-0.48],[1.030,-0.008,-0.95],[1.012,0.040,-0.48],[1.052,-0.043,-0.95],[1.079,-0.133,-0.95],
[0.795,0.037,-0.95],[0.748,0.277,-0.95],[0.791,0.123,-0.47],[0.797,0.213,-0.26],[0.820,0.360,-0.03],[0.853,0.085,-0.95],[0.846,0.190,-0.47],[0.866,0.242,-0.26],[0.884,0.130,-0.47],[0.883,0.475,-0.02],[0.897,0.424,-0.03],[0.906,0.117,-0.47],[0.914,0.242,-0.47],[0.919,0.190,-0.03],[0.922,0.200,-0.12],[0.934,0.267,-0.03],[0.936,0.302,-0.03],[0.921,0.341,-0.03],[0.934,0.347,-0.03],[0.931,0.363,-0.02],[0.937,0.443,0.05],
[0.949,0.130,-0.03],[0.952,0.120,-0.03],[0.953,0.251,-0.03],[0.967,0.270,-0.03],[0.980,0.446,-0.02],[1.001,0.254,-0.03],[1.005,0.050,-0.47],[1.003,0.101,-0.26],[1.009,0.126,-0.03],[1.012,0.139,-0.47],[1.033,0.171,-0.47],[1.031,0.181,-0.26],[1.013,0.210,-0.95],[1.039,0.200,-0.47],[1.044,0.085,-0.03],[1.040,0.290,-0.03],[1.047,0.072,-0.47],[1.063,0.114,-0.47],[1.076,0.168,-0.47],[1.069,0.296,-0.03],[1.096,0.306,-0.26],
[1.101,0.107,-0.47],[1.102,0.146,-0.47],[1.103,0.168,-0.03],[1.108,0.200,-0.47],[1.120,0.219,-0.47],[1.120,0.274,-0.03],[1.131,0.274,-0.26],[1.122,0.443,-0.03],[1.133,0.466,-0.03],[1.182,0.363,-0.03],[1.193,0.466,-0.03],[1.161,0.274,-0.26],[1.164,0.242,-0.03],[1.213,0.338,-0.47],[1.227,0.274,-0.26],[1.229,0.226,-0.03],[1.243,0.264,-0.03],[1.252,0.306,-0.03],[1.269,0.610,-0.03],[1.268,0.270,-0.26],[1.284,0.354,-0.03],[1.276,0.242,-0.47],[1.295,0.542,-0.03],[1.298,0.274,-0.03],
[1.310,0.378,-0.03],[1.316,0.378,-0.03],[1.308,0.424,-0.03],[1.310,0.437,-0.26],[1.330,0.402,-0.03],[1.335,0.378,-0.03],[1.345,0.504,-0.03],[1.349,0.328,-0.03],[1.353,0.363,-0.03],[1.351,0.274,-0.03],[1.362,0.322,-0.03],[1.353,0.248,-0.03],[1.371,0.338,-0.03],[1.377,0.408,-0.03],[1.378,0.427,-0.03],[1.377,0.475,-0.26],[1.383,0.578,-0.03],[1.388,0.530,-0.03],[1.395,0.594,-0.03],[1.397,0.674,0.08],[1.406,0.466,-0.03],[1.382,0.338,-0.26],[1.426,0.306,-0.03],[1.443,0.370,-0.03],[1.441,0.475,-0.03],[1.441,0.539,-0.03],[1.498,0.533,-0.03],[1.479,0.155,-0.03],[1.587,-0.165,-0.03],[1.589,0.290,-0.26],
[1.535,0.264,-0.47],[1.508,0.226,-0.47],[1.514,0.274,-0.47],[1.539,0.181,-0.68],[1.527,0.107,-0.68],[1.534,0.069,-0.47],[1.508,0.072,-0.47],[1.542,-0.030,-0.95],[1.490,-0.056,-0.68],[1.409,0.011,-0.95],[1.405,0.155,-0.95],[1.416,0.155,-0.47],[1.431,0.066,-0.68],[1.440,0.114,-0.47],[1.449,0.226,-0.47],[1.436,0.264,-0.47],[1.414,0.264,-0.47],[1.388,-0.130,-0.47],[1.375,0.082,-0.47],[1.383,0.094,-0.47],
[1.097,-0.088,-0.95],[1.111,-0.117,-0.95],[1.115,-0.066,-1.30],[1.125,-0.123,-0.95],[1.136,-0.078,-0.95],[1.146,-0.098,-0.95],[1.153,-0.101,-0.95],[1.161,-0.136,-0.95],[1.172,-0.094,-1.30],[1.179,-0.094,-1.30],[1.168,-0.072,-0.95],[1.194,-0.110,-0.95],[1.200,-0.094,-0.95],[1.205,-0.149,-0.95],[1.224,-0.142,-0.95],[1.236,-0.130,-0.95],[1.254,-0.104,-0.95],[1.271,-0.126,-0.95],[1.276,-0.136,-0.95],[1.289,-0.110,-0.95],[1.298,-0.078,-1.30],[1.307,-0.094,-0.95],[1.321,-0.088,-0.95],[1.334,-0.098,-0.95],[1.353,-0.123,-0.95],[1.341,-0.043,-0.95],[1.348,-0.053,-1.30],
[1.130,-0.014,-0.95],[1.138,0.018,-0.95],[1.142,0.056,-0.95],[1.215,0.018,-1.30],[1.247,0.011,-0.95],[1.257,0.011,-0.95],[1.258,0.088,-0.95],[1.272,-0.014,-0.95],[1.280,-0.037,-0.95],[1.307,0.002,-0.95],[1.318,-0.014,-0.95],[1.334,-0.002,-0.95],
[1.111,0.018,-0.47],[1.127,0.018,-0.47],[1.135,0.030,-0.47],[1.124,0.082,-0.47],[1.129,0.114,-0.47],[1.149,0.091,-0.47],[1.161,0.114,-0.47],[1.166,0.146,-0.47],[1.179,0.130,-0.47],[1.184,0.178,-0.47],[1.190,0.114,-0.47],[1.202,0.123,-0.47],[1.207,0.162,-0.47],[1.213,0.066,-0.47],[1.223,0.082,-0.47],[1.232,0.034,-0.47],[1.236,0.101,-0.47],[1.242,0.133,-0.47],[1.252,0.050,-0.47],[1.261,0.082,-0.47],[1.266,0.162,-0.47],[1.280,0.050,-0.47],[1.291,0.082,-0.47],[1.298,0.146,-0.47],[1.307,0.114,-0.47],[1.316,0.162,-0.47],[1.325,0.114,-0.47],[1.334,0.178,-0.47],[1.345,0.082,-0.47],[1.357,0.114,-0.47],
[1.256,0.101,-0.26],[1.249,0.181,-0.26],[1.269,0.178,-0.26],[1.294,0.114,-0.26],[1.310,0.200,-0.26]
];

// colour scale of [Fe/H]
const cmapVals = [0.28,0.2,0.1,0.0,-0.15,-0.22,-0.3,-0.38,-0.5,-0.6,-0.68,-0.76,-0.85,-1.0,-1.15,-1.3,-1.45,-1.55,-1.65,-1.78,-1.88,-2.0,-2.07,-2.15,-2.22,-2.25];
const cmapColors = ['#b3301e','#d42a18','#f02a12','#ff2a10','#ff3410','#ff6a12','#ffae14','#ffec22','#f8f040','#f0ee24','#c0cc2c','#74c23c','#14e040','#00e84a','#00cc46','#0e9448','#0e806a','#0a5a82','#0838aa','#1030f0','#4036d8','#8030b0','#b02890','#702870','#200830','#000000'];

function hexToRgb(h){return [parseInt(h.slice(1,3),16),parseInt(h.slice(3,5),16),parseInt(h.slice(5,7),16)];}
function fehColor(v){
  if (v >= cmapVals[0]) return cmapColors[0];
  for (let i=0;i<cmapVals.length-1;i++){
    const a=cmapVals[i], b=cmapVals[i+1];
    if (v<=a && v>=b){
      const t=(a-v)/(a-b), c1=hexToRgb(cmapColors[i]), c2=hexToRgb(cmapColors[i+1]);
      return 'rgb('+c1.map((q,k)=>Math.round(q+(c2[k]-q)*t)).join(',')+')';
    }
  }
  return cmapColors[cmapColors.length-1];
}

const annotations = [
  {t:'Approx. Effective Temperature', x:1.205, y:-1.320, a:'center'},
  {t:tempTickLabels[0], x:tempTickVals[0], y:-1.276, a:'center'},
  {t:tempTickLabels[1], x:tempTickVals[1], y:-1.276, a:'center'},
  {t:'Metal-poor Star Candidates', x:1.207, y:-0.709, a:'center'},
  {t:'(0,9% of sample)', x:1.206, y:-0.613, a:'center'},
  {t:'HE0107-5240', x:1.342, y:-1.016, a:'left'},
  {t:'[Fe/H]= -5.4', x:1.342, y:-0.917, a:'left'}
];

// ---------------- drawing ----------------
Chart.defaults.font.family = "'Liberation Sans', Arial, sans-serif";
Chart.defaults.color = '#222';

function stretchText(ctx, s, x, y, o){
  ctx.save();
  ctx.translate(x,y);
  if (o.rot) ctx.rotate(o.rot);
  ctx.scale(o.sx||1,1);
  ctx.font=o.font; ctx.fillStyle=o.color||'#222'; ctx.letterSpacing=o.ls||'0px';
  ctx.textAlign=o.align||'center'; ctx.textBaseline='middle';
  ctx.fillText(s,0,0);
  ctx.restore();
}

const spacingPlugin = (ls) => ({id:'ls', beforeDraw(chart){ chart.ctx.letterSpacing = ls; }});

const framePlugin = {
  id:'frame',
  afterDraw(chart){
    const {ctx, chartArea:a, scales:{x,y}} = chart;
    ctx.save();
    ctx.strokeStyle='#1a1a1a';
    ctx.lineWidth=2.5;
    ctx.strokeRect(a.left,a.top,a.right-a.left,a.bottom-a.top);
    ctx.lineWidth=2;
    ctx.beginPath();
    xTicks.forEach(v=>{const p=x.getPixelForValue(v); ctx.moveTo(p,a.bottom); ctx.lineTo(p,a.bottom-14); ctx.moveTo(p,a.top); ctx.lineTo(p,a.top+14);});
    yTicks.forEach(v=>{const p=y.getPixelForValue(v); ctx.moveTo(a.left,p); ctx.lineTo(a.left+14,p); ctx.moveTo(a.right,p); ctx.lineTo(a.right-14,p);});
    ctx.stroke();
    ctx.restore();
    annotations.forEach(n=>stretchText(ctx, n.t, x.getPixelForValue(n.x), y.getPixelForValue(n.y), {font:"18px 'Open Sans', sans-serif", sx:1.4, align:n.a, color:'#2a2a2a'}));
    stretchText(ctx, '(g-i)₀', x.getPixelForValue(1.142), y.getPixelForValue(1.378), {font:"19px 'Liberation Sans', Arial, sans-serif", sx:1.45});
    stretchText(ctx, '((u-g)₀+(v-g)₀)/2+2.1(g-i)₀', x.getPixelForValue(0.619), y.getPixelForValue(-0.008), {font:"19px 'Liberation Sans', Arial, sans-serif", sx:2.15, rot:-Math.PI/2});
  }
};

const sampleData = [];
sampleCols.concat(sampleCore).forEach(col=>{ for (let k=1;k<col.length;k++) sampleData.push({x:col[0], y:col[k]}); });
haloDots.forEach(d=>sampleData.push({x:d[0], y:d[1]}));

new Chart(document.getElementById('main'), {
  type:'scatter',
  data:{datasets:[
    {label:'HE0107-5240', data:[{x:heStar[0],y:heStar[1]}], pointRadius:6, pointBorderWidth:2.2, borderColor:'#e8281a', backgroundColor:'#ffffff', order:1},
    {label:'leader', type:'line', data:leaderX.map((v,i)=>({x:v,y:leaderY[i]})), borderColor:'#222', borderWidth:2, pointRadius:0, order:1},
    {label:'stars', data:metalDots.map(d=>({x:d[0],y:d[1]})), pointRadius:5.6, borderWidth:0, backgroundColor:(c)=>fehColor(metalDots[c.dataIndex]?metalDots[c.dataIndex][2]:0), order:2},
    {label:'box', type:'line', data:boxX.map((v,i)=>({x:v,y:boxY[i]})), borderColor:'#1a1a1a', borderWidth:2.8, borderDash:[7,4], pointRadius:0, fill:false, order:3},
    {label:'sample', data:sampleData, pointRadius:1.7, borderWidth:0, backgroundColor:'rgba(25,25,25,0.75)', order:4}
  ]},
  options:{
    responsive:false, animation:false, devicePixelRatio:1,
    layout:{padding:{left:0,top:49,right:183,bottom:0}},
    plugins:{legend:{display:false}, tooltip:{enabled:false}},
    scales:{
      x:{type:'linear', position:'bottom', min:0.7, max:1.596,
        afterBuildTicks:s=>{s.ticks=xTicks.map(v=>({value:v}));},
        afterFit:s=>{s.height=88;},
        grid:{display:false, drawTicks:false}, border:{display:false},
        ticks:{autoSkip:false, maxRotation:0, padding:17, font:{size:21}, color:'#222', callback:v=>Number(v).toFixed(1)}
      },
      y:{type:'linear', position:'left', reverse:true, min:-1.21, max:1.2,
        afterBuildTicks:s=>{s.ticks=yTicks.map(v=>({value:v}));},
        afterFit:s=>{s.width=122.5;},
        grid:{display:false, drawTicks:false}, border:{display:false},
        ticks:{autoSkip:false, padding:6, font:{size:21}, color:'#222', callback:v=>Number(v).toFixed(1)}
      }
    }
  },
  plugins:[spacingPlugin('3.3px'), framePlugin]
});

new Chart(document.getElementById('cb'), {
  type:'bar',
  data:{labels:[''], datasets:[{data:[cbRange], borderColor:'#3a3a3a', borderWidth:2, borderSkipped:false, barPercentage:1, categoryPercentage:1,
    backgroundColor:(c)=>{
      const ch=c.chart, a=ch.chartArea;
      if(!a) return '#f00';
      const ys=ch.scales.y, g=ch.ctx.createLinearGradient(0,a.top,0,a.bottom);
      cmapVals.forEach((v,i)=>{ const t=(ys.getPixelForValue(v)-a.top)/(a.bottom-a.top); g.addColorStop(Math.min(1,Math.max(0,t)), cmapColors[i]); });
      return g;
    }}]},
  options:{
    responsive:false, animation:false, devicePixelRatio:1,
    layout:{padding:{left:14,top:18,right:0,bottom:30}},
    plugins:{legend:{display:false}, tooltip:{enabled:false}},
    scales:{
      x:{display:false},
      y:{position:'right', min:cbRange[0], max:cbRange[1],
        afterBuildTicks:s=>{s.ticks=cbTicks.map(v=>({value:v}));},
        afterFit:s=>{s.width=114;},
        grid:{display:true, drawOnChartArea:false, drawTicks:true, tickLength:5, color:'#222', lineWidth:2},
        border:{display:false},
        ticks:{autoSkip:false, padding:2, font:{size:24}, color:'#222', callback:v=>cbLabels[cbTicks.indexOf(v)]}
      }
    }
  },
  plugins:[spacingPlugin('7px'), {id:'cbTitle', afterDraw(chart){
    const a=chart.chartArea;
    stretchText(chart.ctx, '[Fe/H]', a.right+98, chart.scales.y.getPixelForValue(-0.975), {font:"24px 'Liberation Sans', Arial, sans-serif", ls:'2px', rot:Math.PI/2});
  }}]
});
</script>
</body></html>
